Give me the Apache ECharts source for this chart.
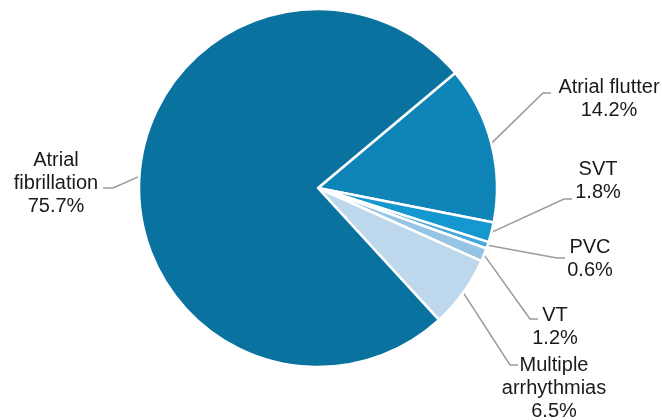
<!DOCTYPE html>
<html>
<head>
<meta charset="utf-8">
<script src="https://cdn.jsdelivr.net/npm/echarts@6/dist/echarts.min.js"></script>
<style>
  html, body { margin: 0; padding: 0; background: #ffffff; }
  #chart { width: 662px; height: 420px; }
</style>
</head>
<body>
<div id="chart"></div>
<script>
// Arrhythmia types, in clockwise order starting from the upper right
const categories = ['Atrial flutter', 'SVT', 'PVC', 'VT', 'Multiple\narrhythmias', 'Atrial\nfibrillation'];
const shares = [14.2, 1.8, 0.6, 1.2, 6.5, 75.7];
const sliceColors = ['#0e85b6', '#1598cf', '#45a8da', '#95c4e5', '#bdd7ec', '#0a729e'];

// Label block centres and the point where each leader line meets its label
const labelCenters = [[609, 99], [598, 181], [590, 259], [555, 327], [554, 388], [56, 183]];
const lineEnds = [[551, 93], [572, 199], [565, 258], [538, 319], [518, 365], [103, 188]];

const chart = echarts.init(document.getElementById('chart'), null, { renderer: 'canvas' });

const pieData = categories.map((name, i) => ({
  name: name,
  value: shares[i],
  itemStyle: { color: sliceColors[i] }
}));

chart.setOption({
  animation: false,
  backgroundColor: '#ffffff',
  series: [{
    type: 'pie',
    center: [318, 188],
    radius: 179,
    startAngle: 40,
    clockwise: true,
    avoidLabelOverlap: false,
    data: pieData,
    itemStyle: { borderColor: '#ffffff', borderWidth: 2.5 },
    label: {
      show: true,
      position: 'outside',
      formatter: p => p.name + '\n' + p.value.toFixed(1) + '%',
      color: '#1a1a1a',
      fontFamily: 'Arial, "Liberation Sans", sans-serif',
      fontSize: 20,
      lineHeight: 23,
      align: 'center'
    },
    labelLine: {
      show: true,
      length: 10,
      length2: 8,
      smooth: false,
      lineStyle: { color: '#9a9a9a', width: 1.5 }
    },
    labelLayout: function (params) {
      const i = params.dataIndex;
      const c = labelCenters[i];
      const end = lineEnds[i];
      const leftSide = end[0] < 318;
      const elbow = [end[0] + (leftSide ? 10 : -8), end[1]];
      const start = params.labelLinePoints ? params.labelLinePoints[0] : elbow;
      return {
        x: c[0],
        y: c[1],
        align: 'center',
        verticalAlign: 'middle',
        labelLinePoints: [start, elbow, end]
      };
    }
  }]
});
</script>
</body>
</html>
